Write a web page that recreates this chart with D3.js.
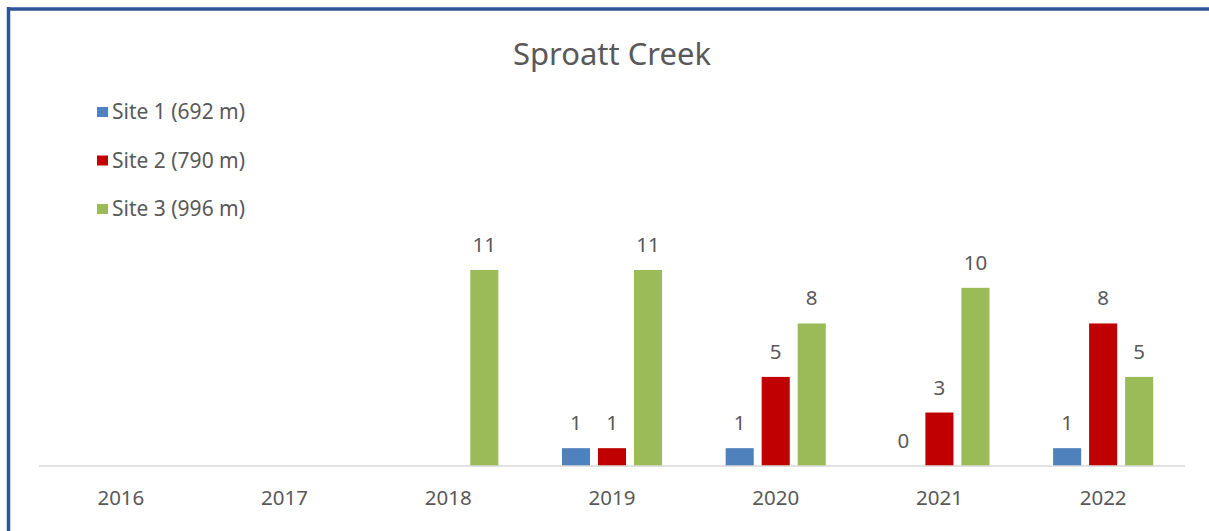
<!DOCTYPE html>
<html>
<head>
<meta charset="utf-8">
<script src="https://cdn.jsdelivr.net/npm/d3@7"></script>
<style>
  body { margin: 0; background: #fff; }
  svg { display: block; font-family: "Noto Sans", "Open Sans", sans-serif; }
</style>
</head>
<body>
<svg id="chart"></svg>
<script>
const years = ['2016', '2017', '2018', '2019', '2020', '2021', '2022'];
const seriesNames = ['Site 1 (692 m)', 'Site 2 (790 m)', 'Site 3 (996 m)'];
const seriesColors = ['#4F81BD', '#C00000', '#9BBB59'];
const site1 = [null, null, null, 1, 1, 0, 1];
const site2 = [null, null, null, 1, 5, 3, 8];
const site3 = [null, null, 11, 11, 8, 10, 5];
const seriesValues = [site1, site2, site3];

const width = 1209, height = 531;
const margin = {top: 270, right: 24, bottom: 65, left: 39};
const textColor = '#595959';

const svg = d3.select('#chart')
    .attr('width', width)
    .attr('height', height);

// frame
svg.append('line')
    .attr('x1', 7).attr('x2', width).attr('y1', 9).attr('y2', 9)
    .attr('stroke', '#2F5597').attr('stroke-width', 3.5);
svg.append('line')
    .attr('x1', 8.5).attr('x2', 8.5).attr('y1', 7).attr('y2', height)
    .attr('stroke', '#2F5597').attr('stroke-width', 3.5);

svg.append('text')
    .attr('x', 612).attr('y', 65)
    .attr('text-anchor', 'middle')
    .attr('fill', textColor)
    .attr('font-size', '31px')
    .text('Sproatt Creek');

const baseY = height - margin.bottom;

const x0 = d3.scaleBand()
    .domain(years)
    .range([margin.left, width - margin.right])
    .paddingInner(0.34)
    .paddingOuter(0.17);

const x1 = d3.scaleBand()
    .domain(d3.range(seriesNames.length))
    .range([0, x0.bandwidth()])
    .paddingInner(0.22)
    .paddingOuter(0.11);

const y = d3.scaleLinear()
    .domain([0, 11])
    .range([baseY, margin.top]);

const rows = [];
years.forEach((yr, i) => {
    seriesValues.forEach((vals, s) => {
        if (vals[i] !== null) rows.push({year: yr, s: s, value: vals[i]});
    });
});

svg.append('g').selectAll('rect')
    .data(rows.filter(d => d.value > 0))
    .join('rect')
    .attr('x', d => x0(d.year) + x1(d.s))
    .attr('y', d => y(d.value))
    .attr('width', x1.bandwidth())
    .attr('height', d => baseY - y(d.value))
    .attr('fill', d => seriesColors[d.s]);

svg.append('g').selectAll('text')
    .data(rows)
    .join('text')
    .attr('x', d => x0(d.year) + x1(d.s) + x1.bandwidth() / 2)
    .attr('y', d => y(d.value) - 18)
    .attr('text-anchor', 'middle')
    .attr('fill', textColor)
    .attr('font-size', '20.5px')
    .text(d => d.value);

// x axis
const xAxis = svg.append('g')
    .attr('transform', `translate(0,${baseY})`)
    .call(d3.axisBottom(x0).tickSize(0).tickPadding(24));
xAxis.select('.domain')
    .attr('d', `M${margin.left},0H${width - margin.right}`)
    .attr('stroke', '#D9D9D9').attr('stroke-width', 1.5);
xAxis.selectAll('text')
    .attr('fill', textColor)
    .attr('font-size', '20.5px')
    .attr('font-family', '"Noto Sans", "Open Sans", sans-serif');

// legend
const legend = svg.append('g').selectAll('g')
    .data(seriesNames)
    .join('g')
    .attr('transform', (d, i) => `translate(97,${112 + i * 48.5})`);
legend.append('rect')
    .attr('x', 0).attr('y', -5)
    .attr('width', 11).attr('height', 10)
    .attr('fill', (d, i) => seriesColors[i]);
legend.append('text')
    .attr('x', 15).attr('y', 0)
    .attr('dy', '0.35em')
    .attr('fill', textColor)
    .attr('font-size', '21px')
    .text(d => d);
</script>
</body>
</html>
